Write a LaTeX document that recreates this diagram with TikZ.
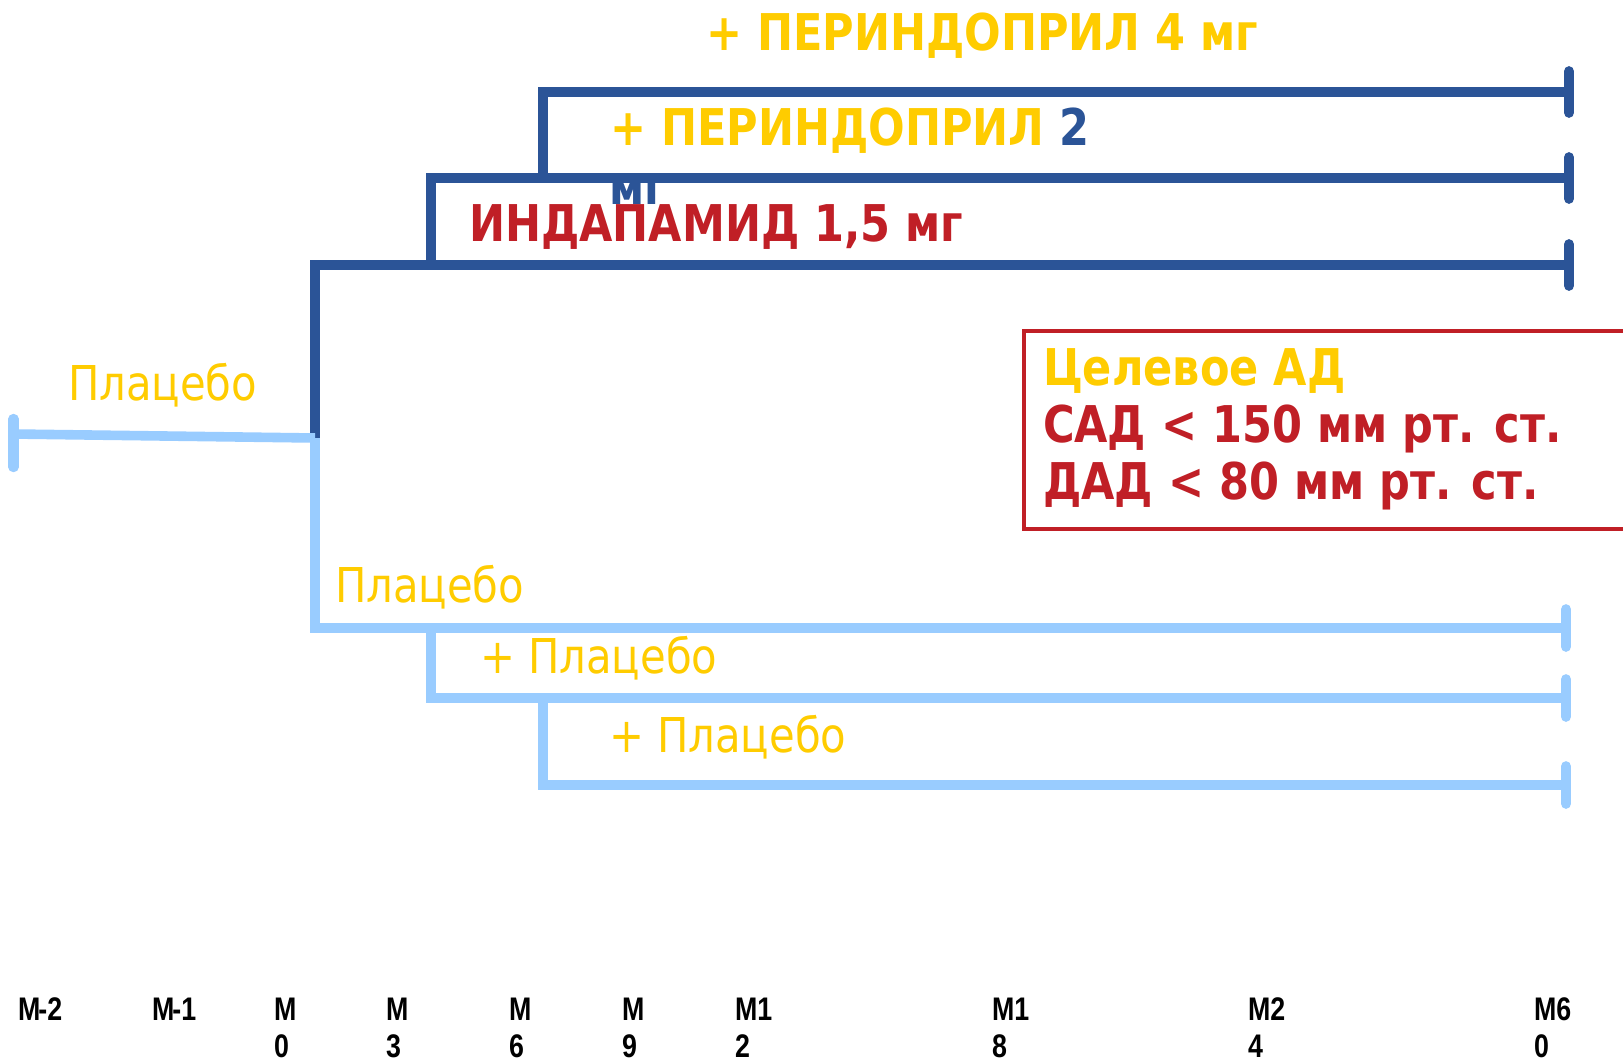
\documentclass[tikz,border=0pt]{standalone}
\usepackage{fontspec}
\newfontfamily\tah[FakeStretch=0.87]{DejaVu Sans}
\newfontfamily\tahb[FakeStretch=0.85]{DejaVu Sans Bold}
\newfontfamily\narrow[FakeStretch=0.82]{Liberation Sans Bold}
\definecolor{dblue}{RGB}{43,84,151}
\definecolor{lblue}{RGB}{153,204,255}
\definecolor{gold}{RGB}{255,204,0}
\definecolor{dred}{RGB}{192,31,38}
\tikzset{
  dline/.style={draw=dblue,line width=7.2pt,line join=miter},
  lline/.style={draw=lblue,line width=7.2pt,line join=miter},
  dcap/.style={draw=dblue,line width=7.8pt,line cap=round},
  lcap/.style={draw=lblue,line width=7.8pt,line cap=round},
  txt/.style={inner sep=0pt,outer sep=0pt,anchor=base west},
  bigb/.style={txt,font=\tahb\fontsize{38}{46}\selectfont},
  reg/.style={txt,font=\tah\fontsize{36}{43}\selectfont},
  axislbl/.style={txt,font=\narrow\fontsize{24.5}{28}\selectfont},
}
\begin{document}
\begin{tikzpicture}[x=0.75pt,y=-0.75pt]
\useasboundingbox (0,0) rectangle (1623,1061);
\fill[white] (0,0) rectangle (1623,1061);

% partially hidden "мг"
\begin{scope}
\clip (590,170) rectangle (670,203);
\node[bigb,text=dblue] (mg2) at (609,205) {мг};
\end{scope}

% junction coordinates
\coordinate (L0) at (13.5,434);
\coordinate (J0) at (315,438);
\coordinate (B1) at (431,265);
\coordinate (B2) at (543,178);
\coordinate (E1) at (1569,265);
\coordinate (E2) at (1569,178);
\coordinate (E3) at (1569,92);
\coordinate (P1) at (431,628);
\coordinate (P2) at (543,698);
\coordinate (F1) at (1566,628);
\coordinate (F2) at (1566,698);
\coordinate (F3) at (1566,785);

% dark blue branches
\draw[dline] (J0) |- (E1);
\draw[dline] (B1) |- (E2);
\draw[dline] (B2) |- (E3);
\draw[dcap] ([yshift=15.5pt]E1) -- ([yshift=-15.5pt]E1);
\draw[dcap] ([yshift=15.5pt]E2) -- ([yshift=-15.5pt]E2);
\draw[dcap] ([yshift=15.5pt]E3) -- ([yshift=-15.5pt]E3);

% light blue branches
\draw[lline] (L0) -- (J0);
\draw[lline] (J0) |- (F1);
\draw[lline] (P1) |- (F2);
\draw[lline] (P2) |- (F3);
\draw[lcap] ([yshift=14pt]F1) -- ([yshift=-14pt]F1);
\draw[lcap] ([yshift=14pt]F2) -- ([yshift=-14pt]F2);
\draw[lcap] ([yshift=14pt]F3) -- ([yshift=-14pt]F3);
\draw[lcap] (13.5,419) -- (13.5,467);

% bold labels
\node[bigb,text=gold] (per4) at (706,50) {+ ПЕРИНДОПРИЛ 4 мг};
\node[bigb,text=gold] (per2) at (610,145) {+ ПЕРИНДОПРИЛ \textcolor{dblue}{2}};
\node[bigb,text=dred] (ind) at (469,241) {ИНДАПАМИД 1,5 мг};

% target box
\draw[dred,line width=3.5pt] (1024,331) rectangle (1640,529);
\node[bigb,text=gold] (t1) at (1043,385) {Целевое АД};
\node[bigb,text=dred] (t2) at (1043,442) {САД < 150 мм рт. ст.};
\node[bigb,text=dred] (t3) at (1043,499) {ДАД < 80 мм рт. ст.};

% placebo labels
\node[reg,text=gold] (pl0) at (68,400) {Плацебо};
\node[reg,text=gold] (pl1) at (335,602) {Плацебо};
\node[reg,text=gold] (pl2) at (480,673) {+ Плацебо};
\node[reg,text=gold] (pl3) at (609,752) {+ Плацебо};

% time axis
\node[axislbl] (a1) at (18,1020) {M\kern-1.5pt-2};
\node[axislbl] (a2) at (152,1020) {M\kern-1.5pt-1};
\node[axislbl] (a3) at (274,1020) {M};
\node[axislbl] (a3b) at (274,1057) {0};
\node[axislbl] (a4) at (386,1020) {M};
\node[axislbl] (a4b) at (386,1057) {3};
\node[axislbl] (a5) at (509,1020) {M};
\node[axislbl] (a5b) at (509,1057) {6};
\node[axislbl] (a6) at (622,1020) {M};
\node[axislbl] (a6b) at (622,1057) {9};
\node[axislbl] (a7) at (735,1020) {M1};
\node[axislbl] (a7b) at (735,1057) {2};
\node[axislbl] (a8) at (992,1020) {M1};
\node[axislbl] (a8b) at (992,1057) {8};
\node[axislbl] (a9) at (1248,1020) {M2};
\node[axislbl] (a9b) at (1248,1057) {4};
\node[axislbl] (a10) at (1534,1020) {M6};
\node[axislbl] (a10b) at (1534,1057) {0};
\end{tikzpicture}
\end{document}
